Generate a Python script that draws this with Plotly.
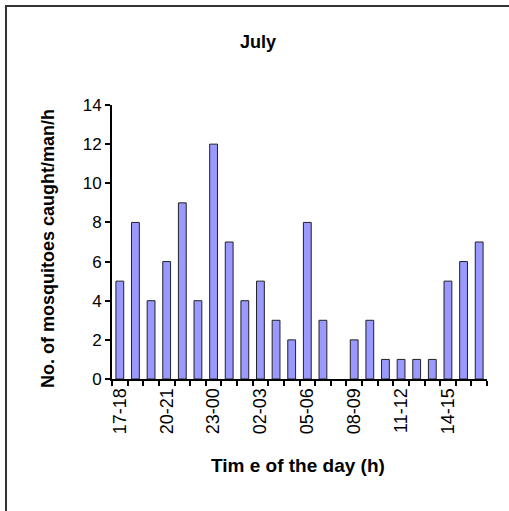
import plotly.graph_objects as go

categories = ["17-18", "18-19", "19-20", "20-21", "21-22", "22-23", "23-00", "00-01",
              "01-02", "02-03", "03-04", "04-05", "05-06", "06-07", "07-08", "08-09",
              "09-10", "10-11", "11-12", "12-13", "13-14", "14-15", "15-16", "16-17"]
mosquitoes = [5, 8, 4, 6, 9, 4, 12, 7, 4, 5, 3, 2, 8, 3, 0, 2, 3, 1, 1, 1, 1, 5, 6, 7]
tick_text = [c if i % 3 == 0 else "" for i, c in enumerate(categories)]

W, H = 509, 511
L, R, T, B = 112, 487, 105, 379
pw, ph = R - L, B - T

def px(x):
    return (x - L) / pw

def py(y):
    return (B - y) / ph

FONT = "Liberation Sans, Arial, sans-serif"

fig = go.Figure(go.Bar(
    x=categories, y=mosquitoes,
    marker=dict(color="#9999FF",
                line=dict(color="#222222", width=[0 if v == 0 else 1 for v in mosquitoes])),
))

fig.update_layout(
    width=W, height=H,
    margin=dict(l=L, r=W - R, t=T, b=H - B),
    paper_bgcolor="white", plot_bgcolor="white",
    bargap=0.5,
    showlegend=False,
    font=dict(family=FONT, color="black", size=17),
    xaxis=dict(
        type="category",
        tickvals=categories, ticktext=tick_text,
        tickson="boundaries",
        ticks="outside", ticklen=5, tickwidth=2, tickcolor="black",
        tickangle=-90,
        tickfont=dict(size=18),
        showline=True, linecolor="black", linewidth=2,
        showgrid=False, zeroline=False,
    ),
    yaxis=dict(
        range=[0, 14], dtick=2,
        ticks="outside", ticklen=5, tickwidth=2, tickcolor="black",
        tickfont=dict(size=17),
        showline=True, linecolor="black", linewidth=2,
        showgrid=False, zeroline=False,
    ),
    annotations=[
        dict(text="<b>July</b>", x=px(258), y=py(42), xref="paper", yref="paper",
             showarrow=False, font=dict(size=18), xanchor="center", yanchor="middle"),
        dict(text="<b>Tim e of the day (h)</b>", x=px(298), y=py(465), xref="paper", yref="paper",
             showarrow=False, font=dict(size=19), xanchor="center", yanchor="middle"),
        dict(text="<b>No. of mosquitoes caught/man/h</b>", x=px(48), y=py(249),
             xref="paper", yref="paper", textangle=-90,
             showarrow=False, font=dict(size=18), xanchor="center", yanchor="middle"),
    ],
    shapes=[
        dict(type="line", xref="paper", yref="paper",
             x0=px(5), y0=py(6), x1=px(W), y1=py(6),
             line=dict(color="#333333", width=2)),
        dict(type="line", xref="paper", yref="paper",
             x0=px(6), y0=py(5), x1=px(6), y1=py(H),
             line=dict(color="#333333", width=2)),
    ],
)

fig.write_html("out.html", config={"displayModeBar": False},
               post_script="document.body.style.margin='0';document.body.style.overflow='hidden';")
